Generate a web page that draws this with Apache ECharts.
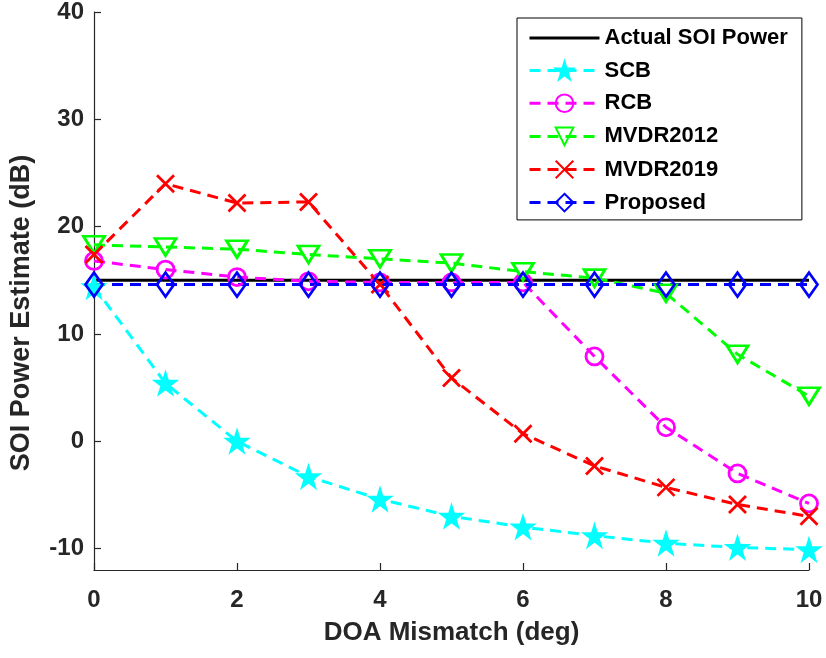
<!DOCTYPE html>
<html>
<head>
<meta charset="utf-8">
<script src="https://cdn.jsdelivr.net/npm/echarts@6/dist/echarts.min.js"></script>
<style>
  html, body { margin: 0; padding: 0; background: #fff; }
  #chart { width: 826px; height: 658px; }
</style>
</head>
<body>
<div id="chart"></div>
<script>
// DOA mismatch in degrees
const mismatch = [0, 1, 2, 3, 4, 5, 6, 7, 8, 9, 10];

// SOI power estimates (dB) per beamformer
const actualPower = [15, 15, 15, 15, 15, 15, 15, 15, 15, 15, 15];
const scb        = [14.4, 5.4, 0.0, -3.3, -5.4, -7.0, -8.0, -8.8, -9.5, -9.9, -10.1];
const rcb        = [16.8, 16.0, 15.3, 14.9, 14.8, 14.8, 14.8, 7.9, 1.3, -3.0, -5.8];
const mvdr2012   = [18.3, 18.1, 17.9, 17.4, 17.0, 16.6, 15.8, 15.2, 13.8, 8.1, 4.2];
const mvdr2019   = [17.4, 24.0, 22.2, 22.3, 14.6, 5.9, 0.7, -2.3, -4.3, -5.9, -7.0];
const proposed   = [14.6, 14.6, 14.6, 14.6, 14.6, 14.6, 14.6, 14.6, 14.6, 14.6, 14.6];

const yTicks = [-10, 0, 10, 20, 30, 40];

const FONT = "'Liberation Sans', Arial, Helvetica, sans-serif";
const AXIS_COLOR = '#262626';

const STAR = 'path://M50,0 L61.2,34.5 L97.6,34.5 L68.2,55.9 L79.4,90.5 L50,69.1 L20.6,90.5 L31.8,55.9 L2.4,34.5 L38.8,34.5 Z';
const CROSS = 'path://M0,0 L10,10 M10,0 L0,10';

const pairs = vals => mismatch.map((x, i) => [x, vals[i]]);
const DASH = [11, 7];
const LW = 3;

function dashed(name, vals, color, symbol, size, extra) {
  return Object.assign({
    name: name,
    type: 'line',
    data: pairs(vals),
    symbol: symbol,
    symbolSize: size,
    showAllSymbol: true,
    lineStyle: { color: color, width: LW, type: DASH },
    itemStyle: { color: 'none', borderColor: color, borderWidth: 2.8 },
    emphasis: { disabled: true },
    animation: false,
    z: 3
  }, extra || {});
}

const series = [
  {
    name: 'Actual SOI Power',
    type: 'line',
    data: pairs(actualPower),
    symbol: 'none',
    lineStyle: { color: '#000', width: LW, type: 'solid' },
    itemStyle: { color: '#000' },
    emphasis: { disabled: true },
    animation: false,
    z: 2
  },
  dashed('SCB', scb, '#00ffff', STAR, 23, {
    itemStyle: { color: '#00ffff', borderColor: '#00ffff', borderWidth: 1.5 }
  }),
  dashed('RCB', rcb, '#ff00ff', 'circle', 17),
  dashed('MVDR2012', mvdr2012, '#00ff00', 'triangle', [21, 17], { symbolRotate: 180 }),
  dashed('MVDR2019', mvdr2019, '#ff0000', CROSS, 17),
  dashed('Proposed', proposed, '#0000ff', 'diamond', [17, 24])
];

const chart = echarts.init(document.getElementById('chart'), null, { renderer: 'canvas' });

chart.setOption({
  backgroundColor: '#fff',
  animation: false,
  textStyle: { fontFamily: FONT },
  grid: { left: 94, right: 17, top: 10, bottom: 88, containLabel: false },
  xAxis: {
    type: 'value',
    min: 0, max: 10, interval: 2,
    name: 'DOA Mismatch (deg)',
    nameLocation: 'middle',
    nameGap: 50,
    nameTextStyle: { fontSize: 26, fontWeight: 'bold', color: AXIS_COLOR, fontFamily: FONT },
    axisLine: { onZero: false, lineStyle: { color: AXIS_COLOR, width: 1.2 } },
    axisTick: { inside: true, length: 7, lineStyle: { color: AXIS_COLOR, width: 1.2 } },
    axisLabel: { fontSize: 24, fontWeight: 'bold', color: AXIS_COLOR, margin: 18, fontFamily: FONT },
    splitLine: { show: false }
  },
  yAxis: {
    type: 'value',
    min: -12, max: 40,
    axisLine: { show: true, onZero: false, lineStyle: { color: AXIS_COLOR, width: 1.2 } },
    axisTick: { show: true, inside: true, length: 7, customValues: yTicks, lineStyle: { color: AXIS_COLOR, width: 1.2 } },
    axisLabel: { fontSize: 24, fontWeight: 'bold', color: AXIS_COLOR, margin: 10, customValues: yTicks, fontFamily: FONT },
    splitLine: { show: false }
  },
  legend: {
    orient: 'vertical',
    left: 517,
    top: 18,
    padding: [9, 14, 6, 11],
    itemWidth: 70,
    itemHeight: 22,
    itemGap: 10.5,
    backgroundColor: '#fff',
    borderColor: '#000',
    borderWidth: 1,
    borderRadius: 0,
    selectedMode: false,
    lineStyle: { width: 3 },
    textStyle: { fontSize: 22, fontWeight: 'bold', color: '#000', fontFamily: FONT },
    data: [
      { name: 'Actual SOI Power', itemStyle: { opacity: 0 } },
      'SCB', 'RCB', 'MVDR2012', 'MVDR2019', 'Proposed'
    ]
  },
  graphic: [{
    type: 'text',
    x: 22, y: 313,
    rotation: Math.PI / 2,
    style: {
      text: 'SOI Power Estimate (dB)',
      fill: AXIS_COLOR,
      font: 'bold 27px ' + FONT,
      align: 'center',
      verticalAlign: 'middle'
    }
  }],
  series: series
});
</script>
</body>
</html>
